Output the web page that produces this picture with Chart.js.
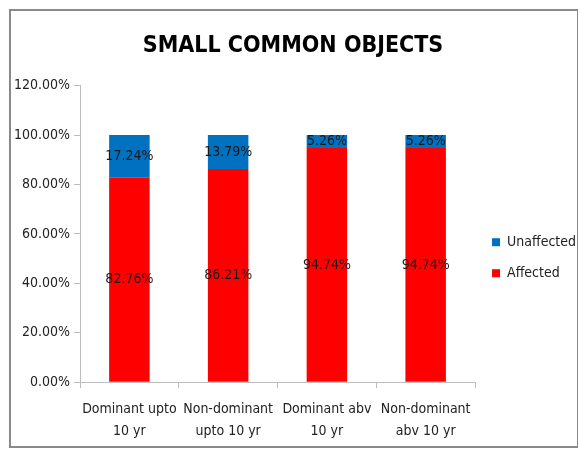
<!DOCTYPE html>
<html lang="en">
<head>
  <meta charset="UTF-8" />
  <title>Small Common Objects</title>
  <script src="https://cdn.jsdelivr.net/npm/chart.js"></script>
  <style>
    body { margin: 0; background: #fff; }
    #wrap { position: absolute; left: 0; top: 0; width: 578px; height: 449px; }
  </style>
</head>
<body>
  <div id="wrap"><canvas id="grafica" width="578" height="449"></canvas></div>
  <script>
    const categorias = [
      ['Dominant upto', '10 yr'],
      ['Non-dominant', 'upto 10 yr'],
      ['Dominant abv', '10 yr'],
      ['Non-dominant', 'abv 10 yr']
    ];
    const afectados = [82.76, 86.21, 94.74, 94.74];
    const noAfectados = [17.24, 13.79, 5.26, 5.26];
    const ticksY = [0, 20, 40, 60, 80, 100, 120];

    const fuente = "'Liberation Sans Narrow', 'DejaVu Sans Condensed', 'Roboto', sans-serif";

    // marco gris alrededor del gráfico
    const marco = {
      id: 'marco',
      beforeDraw(chart) {
        const ctx = chart.ctx;
        ctx.save();
        ctx.fillStyle = '#fff';
        ctx.fillRect(0, 0, chart.width, chart.height);
        ctx.strokeStyle = '#8a8a8a';
        ctx.lineWidth = 2;
        ctx.strokeRect(10, 10, 568, 437);
        ctx.restore();
      }
    };

    // etiquetas centradas en cada segmento
    const etiquetas = {
      id: 'etiquetas',
      afterDatasetsDraw(chart) {
        const ctx = chart.ctx;
        ctx.save();
        ctx.font = '14px ' + fuente;
        ctx.fillStyle = '#1a1a1a';
        ctx.textAlign = 'center';
        ctx.textBaseline = 'middle';
        chart.data.datasets.forEach((ds, i) => {
          chart.getDatasetMeta(i).data.forEach((bar, j) => {
            const y = (bar.y + bar.base) / 2;
            ctx.fillText(ds.data[j].toFixed(2) + '%', bar.x, y);
          });
        });
        ctx.restore();
      }
    };

    new Chart(document.getElementById('grafica'), {
      type: 'bar',
      data: {
        labels: categorias,
        datasets: [
          { label: 'Affected', data: afectados, backgroundColor: '#ff0000' },
          { label: 'Unaffected', data: noAfectados, backgroundColor: '#0070c0' }
        ]
      },
      options: {
        responsive: false,
        animation: false,
        categoryPercentage: 1,
        barPercentage: 0.41,
        layout: { padding: { top: 20, bottom: -4, right: -8, left: 0 } },
        plugins: {
          title: {
            display: true,
            text: 'SMALL COMMON OBJECTS',
            color: '#000',
            font: { family: fuente, size: 23, weight: 'bold' },
            padding: { top: 12, bottom: 26 }
          },
          legend: {
            position: 'right',
            reverse: true,
            title: { display: true, text: '', padding: { top: 0, bottom: 28 } },
            labels: {
              boxWidth: 8,
              boxHeight: 8,
              color: '#222',
              padding: 17,
              font: { family: fuente, size: 14 }
            }
          },
          tooltip: { enabled: false }
        },
        scales: {
          x: {
            stacked: true,
            grid: { drawOnChartArea: false, offset: true, tickLength: 6, color: '#bdbdbd' },
            border: { color: '#bdbdbd' },
            ticks: {
              color: '#222',
              autoSkip: false,
              maxRotation: 0,
              padding: 10,
              font: { family: fuente, size: 14, lineHeight: 1.6 }
            }
          },
          y: {
            stacked: true,
            min: 0,
            max: 120,
            afterBuildTicks(scale) { scale.ticks = ticksY.map(v => ({ value: v })); },
            afterFit(scale) { scale.width = 80; },
            grid: { drawOnChartArea: false, tickLength: 6, color: '#bdbdbd' },
            border: { color: '#bdbdbd' },
            ticks: {
              color: '#222',
              font: { family: fuente, size: 14 },
              padding: 4,
              callback: v => v.toFixed(2) + '%'
            }
          }
        }
      },
      plugins: [marco, etiquetas]
    });
  </script>
</body>
</html>
